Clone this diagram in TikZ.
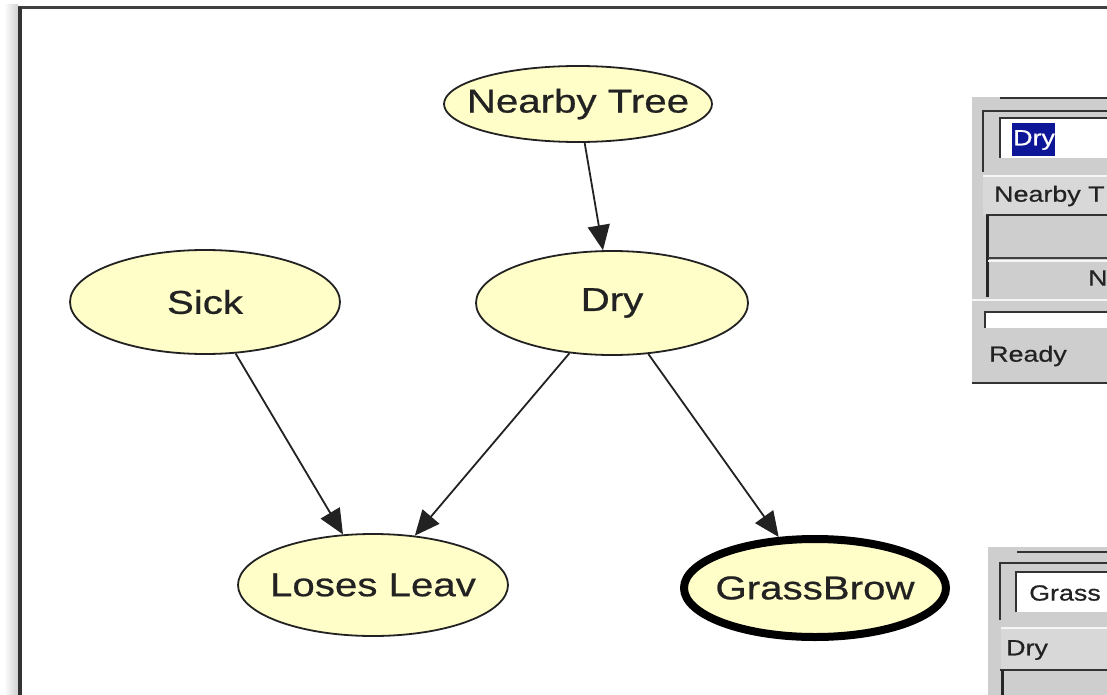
\documentclass[tikz,border=0pt]{standalone}
\usepackage{fontspec}
\setmainfont{Liberation Sans}[FakeStretch=1.22,FakeBold=0.6]
\usetikzlibrary{shapes.geometric,arrows.meta}

\definecolor{nodeFill}{RGB}{255,253,200}
\definecolor{winGray}{RGB}{206,206,206}
\definecolor{rowGray}{RGB}{216,216,216}
\definecolor{selBlue}{RGB}{12,22,150}
\definecolor{inkDark}{RGB}{34,34,34}

% node labels take no width, so the ellipse keeps the size given to it
\newcommand{\nodetext}[1]{\makebox[0pt][c]{#1}}

\tikzset{
  bnode/.style={ellipse, draw=inkDark, line width=1.8pt, fill=nodeFill,
    inner sep=0pt, text=inkDark, font=\fontsize{33}{36}\selectfont},
  evidence/.style={line width=8pt, draw=black},
  edge/.style={draw=inkDark, line width=1.8pt,
    -{Triangle[length=25pt,width=22pt]}},
  wintext/.style={anchor=west, inner sep=0pt, text=inkDark,
    font=\fontsize{22}{24}\selectfont},
  darkedge/.style={draw=black!80, line width=2pt},
  lightedge/.style={draw=white!96!black, line width=1.5pt}
}

\begin{document}
\begin{tikzpicture}[x=1pt,y=-1pt]
\useasboundingbox (0,0) rectangle (1107,695);
\fill[white] (0,0) rectangle (1107,695);

% window frame of the graph view
\shade[left color=white, right color=black!18] (4,5) rectangle (18,695);
\draw[black!75, line width=3pt] (18,8) -- (1107,8);
\draw[black!80, line width=4pt] (20,7) -- (20,695);

% network nodes
\node[bnode, minimum width=268, minimum height=76] (tree) at (578,104) {\nodetext{Nearby Tree}};
\node[bnode, minimum width=270, minimum height=104] (sick) at (205,302) {\nodetext{Sick}};
\node[bnode, minimum width=272, minimum height=104] (dry) at (612,303) {\nodetext{Dry}};
\node[bnode, minimum width=270, minimum height=102] (leav) at (373,585) {\nodetext{Loses Leav}};
\node[bnode, evidence, minimum width=262, minimum height=98] (grass) at (815,588) {\nodetext{GrassBrow}};

% dependencies
\draw[edge] (tree) -- (dry);
\draw[edge] (sick) -- (leav);
\draw[edge] (dry) -- (leav);
\draw[edge] (dry) -- (grass);

% upper property window
\fill[winGray] (972,97) rectangle (1107,383);
\draw[darkedge] (1000,98) -- (1107,98);
\draw[darkedge] (983,172) -- (983,111) -- (1107,111);
\fill[white] (1000,118) rectangle (1107,158);
\draw[darkedge] (1000,158) -- (1000,118) -- (1107,118);
\fill[selBlue] (1012,123) rectangle (1055,156);
\node[wintext, text=white] (selname) at (1013,140) {Dry};
\fill[rowGray] (983,175) rectangle (1107,215);
\draw[lightedge] (983,176) -- (1107,176);
\node[wintext] (parenthead) at (994,196) {Nearby T};
\draw[black!80, line width=1.5pt] (986,215) -- (1107,215);
\draw[black!85, line width=3pt] (987,215) -- (987,297);
\draw[black!75, line width=1.5pt] (988,258) -- (1107,258);
\draw[lightedge] (988,261) -- (1107,261);
\node[wintext] (parentcell) at (1088,278) {N};
\draw[lightedge] (972,300) -- (1107,300);
\fill[white] (985,312) rectangle (1107,328);
\draw[darkedge] (985,328) -- (985,312) -- (1107,312);
\node[wintext] (status) at (989,356) {Ready};
\draw[black!80, line width=2pt] (972,383) -- (1107,383);

% lower property window
\fill[winGray] (988,547) rectangle (1107,695);
\draw[darkedge] (1017,552) -- (1107,552);
\draw[darkedge] (1000,620) -- (1000,563) -- (1107,563);
\fill[white] (1016,572) rectangle (1107,612);
\draw[darkedge] (1016,612) -- (1016,572) -- (1107,572);
\node[wintext] (nodename) at (1029,593) {Grass};
\fill[rowGray] (1001,627) rectangle (1107,670);
\draw[lightedge] (1001,628) -- (1107,628);
\node[wintext] (parenthead2) at (1006,650) {Dry};
\draw[black!80, line width=1.5pt] (1000,670) -- (1107,670);
\draw[black!85, line width=3pt] (1002,670) -- (1002,695);
\end{tikzpicture}
\end{document}
